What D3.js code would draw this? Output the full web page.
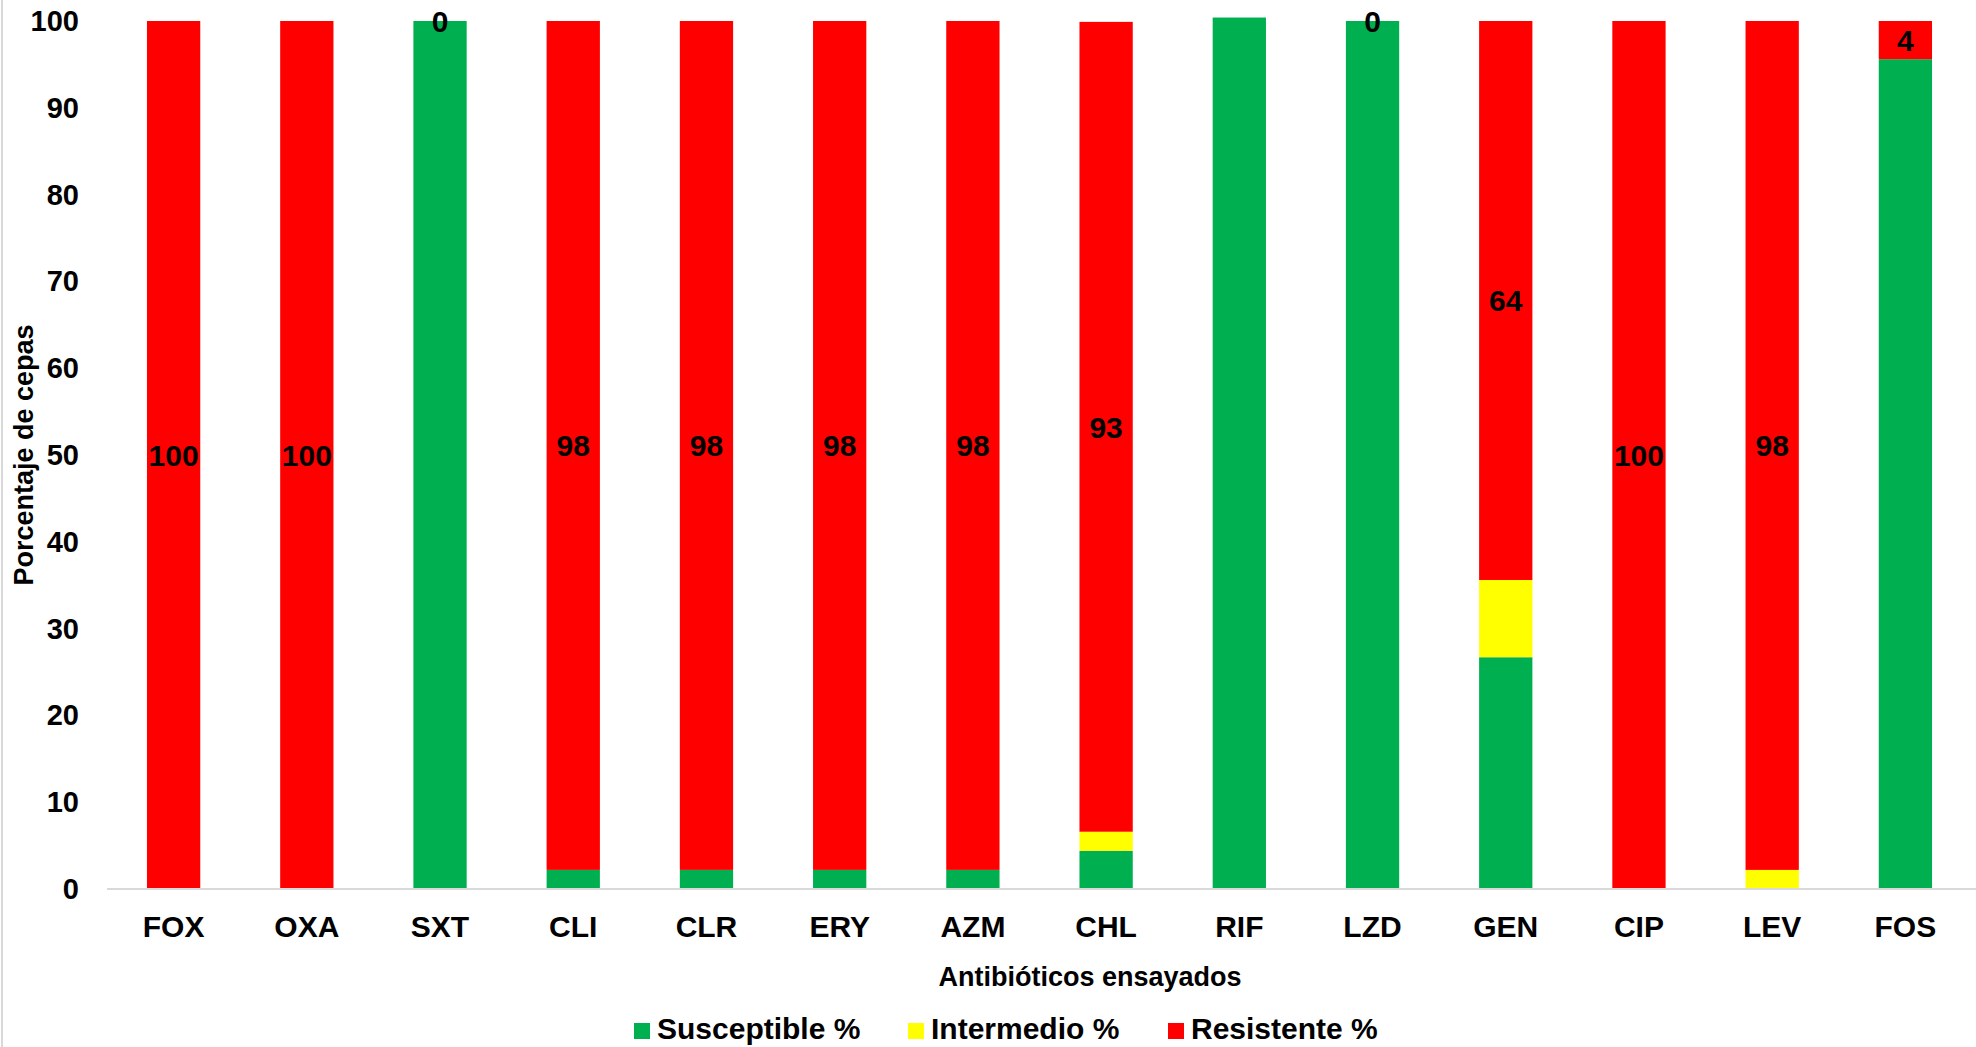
<!DOCTYPE html>
<meta charset="utf-8">
<script src="https://d3js.org/d3.v7.min.js"></script>
<style>
    body { margin: 0; background: #fff; font-family: 'Liberation Sans', Arial, sans-serif; }
    text { font-weight: bold; fill: #000; }
</style>
<div id="chart"></div>
<script>
    // antibiotics on the x axis
    var antibiotics = ["FOX", "OXA", "SXT", "CLI", "CLR", "ERY", "AZM", "CHL", "RIF", "LZD", "GEN", "CIP", "LEV", "FOS"];
    // percentages
    var susceptible = [0, 0, 100, 2.2, 2.2, 2.2, 2.2, 4.4, 100.4, 100, 26.7, 0, 0, 95.6];
    var intermediate = [0, 0, 0, 0, 0, 0, 0, 2.2, 0, 0, 8.9, 0, 2.2, 0];
    var resistant = [100, 100, 0, 97.8, 97.8, 97.8, 97.8, 93.3, 0, 0, 64.4, 100, 97.8, 4.4];
    // labels printed on the red part (RIF has none)
    var resistantLabels = ["100", "100", "0", "98", "98", "98", "98", "93", "", "0", "64", "100", "98", "4"];
    var yTicks = [0, 10, 20, 30, 40, 50, 60, 70, 80, 90, 100];

    var seriesNames = ["Susceptible %", "Intermedio %", "Resistente %"];
    var colors = ["#00b050", "#ffff00", "#ff0000"];

    var W = 1976, H = 1047;

    var svg = d3.select("#chart").append("svg")
        .attr("width", W)
        .attr("height", H);

    // build rows for d3.stack
    var rows = antibiotics.map(function(a, i) {
        return { name: a, s: susceptible[i], m: intermediate[i], r: resistant[i] };
    });
    var stacked = d3.stack().keys(["s", "m", "r"])(rows);

    var x = d3.scaleBand()
        .domain(antibiotics)
        .range([107, 1972])
        .paddingInner(0.6)
        .paddingOuter(0.3);

    var y = d3.scaleLinear()
        .domain([0, 100])
        .range([889, 21]);

    // chart area left border
    svg.append("line")
        .attr("x1", 2).attr("x2", 2)
        .attr("y1", 0).attr("y2", H)
        .attr("stroke", "#d9d9d9").attr("stroke-width", 2);

    // bars
    svg.selectAll("g.layer")
        .data(stacked)
        .enter().append("g")
        .attr("class", "layer")
        .attr("fill", function(d, i) { return colors[i]; })
        .selectAll("rect")
        .data(function(d) { return d; })
        .enter().append("rect")
        .attr("x", function(d) { return x(d.data.name); })
        .attr("width", x.bandwidth())
        .attr("y", function(d) { return y(d[1]); })
        .attr("height", function(d) { return y(d[0]) - y(d[1]); });

    // x axis line
    svg.append("line")
        .attr("x1", 107).attr("x2", W)
        .attr("y1", y(0)).attr("y2", y(0))
        .attr("stroke", "#d9d9d9").attr("stroke-width", 2);

    // y tick labels
    svg.selectAll("text.ytick")
        .data(yTicks)
        .enter().append("text")
        .attr("class", "ytick")
        .attr("x", 79)
        .attr("y", function(d) { return y(d) + 10; })
        .attr("text-anchor", "end")
        .style("font-size", "29px")
        .text(function(d) { return d; });

    // x tick labels
    svg.selectAll("text.xtick")
        .data(antibiotics)
        .enter().append("text")
        .attr("class", "xtick")
        .attr("x", function(d) { return x(d) + x.bandwidth() / 2; })
        .attr("y", 937)
        .attr("text-anchor", "middle")
        .style("font-size", "30px")
        .text(function(d) { return d; });

    // resistant data labels, centred in the red segment
    var redLayer = stacked[2];
    svg.selectAll("text.dlabel")
        .data(redLayer)
        .enter().append("text")
        .attr("class", "dlabel")
        .attr("x", function(d) { return x(d.data.name) + x.bandwidth() / 2; })
        .attr("y", function(d) { return y((d[0] + d[1]) / 2) + 11; })
        .attr("text-anchor", "middle")
        .style("font-size", "30px")
        .text(function(d, i) { return resistantLabels[i]; });

    // axis titles
    svg.append("text")
        .attr("x", 1090)
        .attr("y", 986)
        .attr("text-anchor", "middle")
        .style("font-size", "27px")
        .text("Antibióticos ensayados");

    svg.append("text")
        .attr("transform", "translate(33,455) rotate(-90)")
        .attr("text-anchor", "middle")
        .style("font-size", "27px")
        .text("Porcentaje de cepas");

    // legend
    var legendX = [634, 908, 1168];
    var legend = svg.selectAll("g.legend")
        .data(seriesNames)
        .enter().append("g")
        .attr("class", "legend")
        .attr("transform", function(d, i) { return "translate(" + legendX[i] + ",1023)"; });
    legend.append("rect")
        .attr("width", 16).attr("height", 16)
        .attr("fill", function(d, i) { return colors[i]; });
    legend.append("text")
        .attr("x", 23)
        .attr("y", 16)
        .style("font-size", "30px")
        .text(function(d) { return d; });
</script>
